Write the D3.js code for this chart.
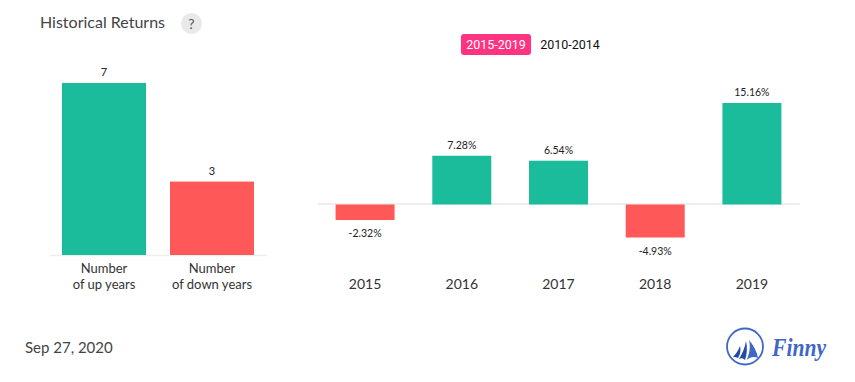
<!DOCTYPE html>
<html lang="en">
<head>
    <meta charset="UTF-8">
    <title>Historical Returns</title>
    <script src="https://d3js.org/d3.v7.min.js"></script>
    <style>
        html, body { margin: 0; padding: 0; background: #fff; overflow: hidden; }
        text { font-family: Lato, sans-serif; }
    </style>
</head>
<body>
    <svg width="855" height="382"></svg>

    <script>
        // Left chart: up / down year counts
        const countKeys = ['up', 'down'];
        const countValues = [7, 3];
        const countLabels = [['Number', 'of up years'], ['Number', 'of down years']];

        // Right chart: yearly returns in percent
        const years = ['2015', '2016', '2017', '2018', '2019'];
        const returns = [-2.32, 7.28, 6.54, -4.93, 15.16];

        const periods = ['2015-2019', '2010-2014'];
        const dateLabel = 'Sep 27, 2020';

        const green = '#1abc9c';
        const red = '#ff5858';
        const axisGrey = '#eeeeee';

        const svg = d3.select('svg');

        // Title and help badge
        svg.append('text')
            .attr('x', 40).attr('y', 28)
            .attr('font-size', 16).attr('fill', '#444')
            .text('Historical Returns');
        svg.append('circle')
            .attr('cx', 191.5).attr('cy', 23.5).attr('r', 10.5)
            .attr('fill', '#e9e9e9');
        svg.append('text')
            .attr('x', 191.5).attr('y', 28.5)
            .attr('text-anchor', 'middle')
            .attr('font-size', 14).attr('fill', '#555')
            .text('?');

        // Period switch
        svg.append('rect')
            .attr('x', 461).attr('y', 34).attr('width', 70).attr('height', 21).attr('rx', 3)
            .attr('fill', '#fe3382');
        svg.selectAll('.period')
            .data(periods)
            .enter()
            .append('text')
            .attr('class', 'period')
            .attr('x', (d, i) => i === 0 ? 496 : 570)
            .attr('y', 49)
            .attr('text-anchor', 'middle')
            .attr('font-size', 12.5)
            .attr('fill', (d, i) => i === 0 ? '#fff' : '#111')
            .style('font-family', 'Roboto, sans-serif')
            .text(d => d);

        // Count bars
        const xCount = d3.scaleBand()
            .domain(countKeys)
            .range([50, 266])
            .paddingInner(0.222)
            .paddingOuter(0.111);
        const yCount = d3.scaleLinear()
            .domain([0, 7])
            .range([255.5, 83]);

        svg.append('line')
            .attr('x1', 50).attr('x2', 267)
            .attr('y1', 255.5).attr('y2', 255.5)
            .attr('stroke', axisGrey).attr('stroke-width', 1.5);

        svg.selectAll('.count-bar')
            .data(countValues)
            .enter()
            .append('rect')
            .attr('class', 'count-bar')
            .attr('x', (d, i) => xCount(countKeys[i]))
            .attr('y', d => yCount(d))
            .attr('width', xCount.bandwidth())
            .attr('height', d => yCount(0) - 0.5 - yCount(d))
            .attr('fill', (d, i) => i === 0 ? green : red);

        svg.selectAll('.count-value')
            .data(countValues)
            .enter()
            .append('text')
            .attr('class', 'count-value')
            .attr('x', (d, i) => xCount(countKeys[i]) + xCount.bandwidth() / 2)
            .attr('y', d => yCount(d) - 7)
            .attr('text-anchor', 'middle')
            .attr('font-size', 11).attr('fill', '#222')
            .text(d => d);

        countLabels.forEach((lines, i) => {
            lines.forEach((line, j) => {
                svg.append('text')
                    .attr('x', xCount(countKeys[i]) + xCount.bandwidth() / 2)
                    .attr('y', 273 + j * 16)
                    .attr('text-anchor', 'middle')
                    .attr('font-size', 13).attr('fill', '#333')
                    .text(line);
            });
        });

        // Yearly return bars
        const xYear = d3.scaleBand()
            .domain(years)
            .range([317.5, 799.5])
            .paddingInner(0.39)
            .paddingOuter(0.187);
        const yReturn = d3.scaleLinear()
            .domain([0, 15.16])
            .range([204.5, 103]);

        svg.append('line')
            .attr('x1', 318).attr('x2', 800)
            .attr('y1', yReturn(0) - 0.5).attr('y2', yReturn(0) - 0.5)
            .attr('stroke', axisGrey).attr('stroke-width', 2);

        svg.selectAll('.return-bar')
            .data(returns)
            .enter()
            .append('rect')
            .attr('class', 'return-bar')
            .attr('x', (d, i) => xYear(years[i]))
            .attr('y', d => yReturn(Math.max(d, 0)))
            .attr('width', xYear.bandwidth())
            .attr('height', d => Math.abs(yReturn(d) - yReturn(0)))
            .attr('fill', d => d < 0 ? red : green);

        svg.selectAll('.return-value')
            .data(returns)
            .enter()
            .append('text')
            .attr('class', 'return-value')
            .attr('x', (d, i) => xYear(years[i]) + xYear.bandwidth() / 2)
            .attr('y', d => d < 0 ? yReturn(d) + 17 : yReturn(d) - 7)
            .attr('text-anchor', 'middle')
            .attr('font-size', 10.5).attr('fill', '#222')
            .text(d => d.toFixed(2) + '%');

        svg.selectAll('.year-label')
            .data(years)
            .enter()
            .append('text')
            .attr('class', 'year-label')
            .attr('x', d => xYear(d) + xYear.bandwidth() / 2)
            .attr('y', 289)
            .attr('text-anchor', 'middle')
            .attr('font-size', 14).attr('fill', '#333')
            .text(d => d);

        // Footer
        svg.append('text')
            .attr('x', 25).attr('y', 353)
            .attr('font-size', 15).attr('fill', '#444')
            .text(dateLabel);

        // Logo
        const logo = svg.append('g');
        logo.append('circle')
            .attr('cx', 745).attr('cy', 346.5).attr('r', 18)
            .attr('fill', 'none').attr('stroke', '#3f67c8').attr('stroke-width', 1.8);
        logo.append('path').attr('d', 'M749 340 C754 346 757 352 758 358 C754 356 750 357 746.5 360 C750 353 750.5 346 749 340 Z').attr('fill', '#3f67c8');
        logo.append('path').attr('d', 'M746 341 C747.5 348 747 354 745 360 C743 358 741 358 739 359 C742 354 745 348 746 341 Z').attr('fill', '#234aa8');
        logo.append('path').attr('d', 'M740 346 C741 350 740.5 354 738 358 C736.5 357 735 357 733 357 C736 354 738.5 350 740 346 Z').attr('fill', '#234aa8');
        svg.append('text')
            .attr('x', 772).attr('y', 356)
            .attr('font-size', 25).attr('font-weight', 700).attr('font-style', 'italic')
            .attr('textLength', 54).attr('lengthAdjust', 'spacingAndGlyphs')
            .attr('fill', '#3f67c8')
            .style('font-family', '"Liberation Serif", serif')
            .text('Finny');
    </script>
</body>
</html>
